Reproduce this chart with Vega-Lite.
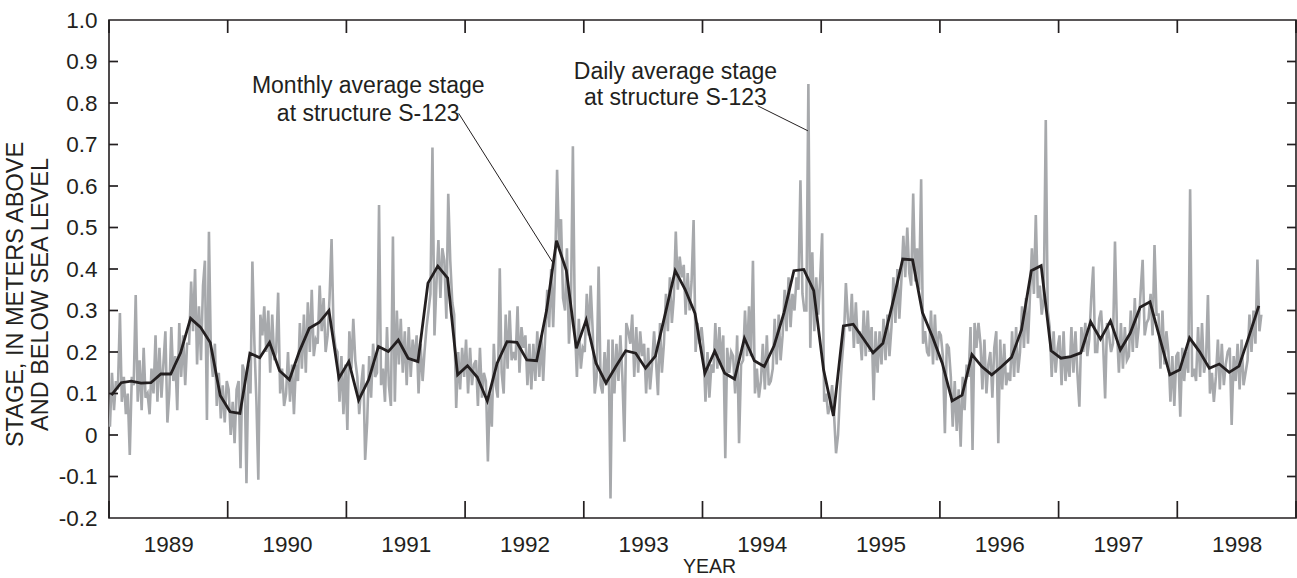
{
"$schema":"https://vega.github.io/schema/vega-lite/v6.json",
"width":1187,"height":498,"autosize":"none",
"padding":{"left":109,"top":20,"right":1,"bottom":60},
"background":"white",
"config":{"view":{"stroke":"#231f20","strokeWidth":1.6},"font":"Liberation Sans",
"axis":{"grid":false,"domain":false,"labelFont":"Liberation Sans","titleFont":"Liberation Sans","labelColor":"#231f20","titleColor":"#231f20","tickColor":"#231f20","titleFontWeight":"normal","labelFlush":false,"labelOverlap":false}},
"datasets":{
"monthly":[
{"t":1989.020,"v":0.096},{"t":1989.103,"v":0.126},{"t":1989.187,"v":0.130},{"t":1989.270,"v":0.125},{"t":1989.353,"v":0.126},{"t":1989.437,"v":0.147},{"t":1989.520,"v":0.147},{"t":1989.603,"v":0.198},{"t":1989.687,"v":0.281},{"t":1989.770,"v":0.260},{"t":1989.853,"v":0.223},{"t":1989.937,"v":0.095},
{"t":1990.020,"v":0.056},{"t":1990.103,"v":0.052},{"t":1990.187,"v":0.197},{"t":1990.270,"v":0.186},{"t":1990.353,"v":0.223},{"t":1990.437,"v":0.155},{"t":1990.520,"v":0.133},{"t":1990.603,"v":0.201},{"t":1990.687,"v":0.257},{"t":1990.770,"v":0.271},{"t":1990.853,"v":0.300},{"t":1990.937,"v":0.137},
{"t":1991.020,"v":0.177},{"t":1991.103,"v":0.084},{"t":1991.187,"v":0.133},{"t":1991.270,"v":0.213},{"t":1991.353,"v":0.201},{"t":1991.437,"v":0.229},{"t":1991.520,"v":0.185},{"t":1991.603,"v":0.177},{"t":1991.687,"v":0.366},{"t":1991.770,"v":0.407},{"t":1991.853,"v":0.378},{"t":1991.937,"v":0.145},
{"t":1992.020,"v":0.167},{"t":1992.103,"v":0.139},{"t":1992.187,"v":0.082},{"t":1992.270,"v":0.173},{"t":1992.353,"v":0.225},{"t":1992.437,"v":0.223},{"t":1992.520,"v":0.181},{"t":1992.603,"v":0.179},{"t":1992.687,"v":0.301},{"t":1992.770,"v":0.468},{"t":1992.853,"v":0.396},{"t":1992.937,"v":0.209},
{"t":1993.020,"v":0.277},{"t":1993.103,"v":0.173},{"t":1993.187,"v":0.125},{"t":1993.270,"v":0.165},{"t":1993.353,"v":0.203},{"t":1993.437,"v":0.197},{"t":1993.520,"v":0.161},{"t":1993.603,"v":0.190},{"t":1993.687,"v":0.293},{"t":1993.770,"v":0.396},{"t":1993.853,"v":0.351},{"t":1993.937,"v":0.293},
{"t":1994.020,"v":0.149},{"t":1994.103,"v":0.202},{"t":1994.187,"v":0.149},{"t":1994.270,"v":0.135},{"t":1994.353,"v":0.233},{"t":1994.437,"v":0.179},{"t":1994.520,"v":0.165},{"t":1994.603,"v":0.215},{"t":1994.687,"v":0.295},{"t":1994.770,"v":0.396},{"t":1994.853,"v":0.399},{"t":1994.937,"v":0.348},
{"t":1995.020,"v":0.157},{"t":1995.103,"v":0.046},{"t":1995.187,"v":0.263},{"t":1995.270,"v":0.267},{"t":1995.353,"v":0.233},{"t":1995.437,"v":0.198},{"t":1995.520,"v":0.221},{"t":1995.603,"v":0.319},{"t":1995.687,"v":0.424},{"t":1995.770,"v":0.422},{"t":1995.853,"v":0.295},{"t":1995.937,"v":0.237},
{"t":1996.020,"v":0.173},{"t":1996.103,"v":0.082},{"t":1996.187,"v":0.096},{"t":1996.270,"v":0.194},{"t":1996.353,"v":0.165},{"t":1996.437,"v":0.145},{"t":1996.520,"v":0.165},{"t":1996.603,"v":0.187},{"t":1996.687,"v":0.253},{"t":1996.770,"v":0.396},{"t":1996.853,"v":0.408},{"t":1996.937,"v":0.203},
{"t":1997.020,"v":0.185},{"t":1997.103,"v":0.189},{"t":1997.187,"v":0.198},{"t":1997.270,"v":0.273},{"t":1997.353,"v":0.231},{"t":1997.437,"v":0.275},{"t":1997.520,"v":0.205},{"t":1997.603,"v":0.245},{"t":1997.687,"v":0.308},{"t":1997.770,"v":0.321},{"t":1997.853,"v":0.233},{"t":1997.937,"v":0.145},
{"t":1998.020,"v":0.157},{"t":1998.103,"v":0.234},{"t":1998.187,"v":0.201},{"t":1998.270,"v":0.161},{"t":1998.353,"v":0.171},{"t":1998.437,"v":0.151},{"t":1998.520,"v":0.166},{"t":1998.603,"v":0.237},{"t":1998.687,"v":0.311}
],
"daily":[
{"t":1989.008,"v":0.02},{"t":1989.025,"v":0.15},{"t":1989.042,"v":0.06},{"t":1989.058,"v":0.13},{"t":1989.075,"v":0.11},
{"t":1989.092,"v":0.294},{"t":1989.108,"v":0.08},{"t":1989.125,"v":0.14},{"t":1989.142,"v":0.05},{"t":1989.158,"v":0.10},
{"t":1989.175,"v":-0.048},{"t":1989.192,"v":0.14},{"t":1989.208,"v":0.12},{"t":1989.225,"v":0.337},{"t":1989.242,"v":0.08},
{"t":1989.258,"v":0.18},{"t":1989.275,"v":0.06},{"t":1989.292,"v":0.21},{"t":1989.308,"v":0.09},{"t":1989.325,"v":0.10},
{"t":1989.342,"v":0.05},{"t":1989.358,"v":0.16},{"t":1989.375,"v":0.10},{"t":1989.392,"v":0.24},{"t":1989.408,"v":0.08},
{"t":1989.425,"v":0.21},{"t":1989.442,"v":0.09},{"t":1989.458,"v":0.17},{"t":1989.475,"v":0.25},{"t":1989.492,"v":0.03},
{"t":1989.508,"v":0.10},{"t":1989.525,"v":0.26},{"t":1989.542,"v":0.13},{"t":1989.558,"v":0.19},{"t":1989.575,"v":0.06},
{"t":1989.592,"v":0.27},{"t":1989.608,"v":0.14},{"t":1989.625,"v":0.24},{"t":1989.642,"v":0.12},{"t":1989.658,"v":0.22},
{"t":1989.675,"v":0.22},{"t":1989.692,"v":0.37},{"t":1989.708,"v":0.25},{"t":1989.725,"v":0.40},{"t":1989.742,"v":0.17},
{"t":1989.758,"v":0.31},{"t":1989.775,"v":0.18},{"t":1989.792,"v":0.36},{"t":1989.808,"v":0.42},{"t":1989.825,"v":0.036},
{"t":1989.842,"v":0.49},{"t":1989.858,"v":0.20},{"t":1989.875,"v":0.14},{"t":1989.892,"v":0.22},{"t":1989.908,"v":0.07},
{"t":1989.925,"v":0.15},{"t":1989.942,"v":0.04},{"t":1989.958,"v":0.12},{"t":1989.975,"v":0.03},{"t":1989.992,"v":0.13},
{"t":1990.008,"v":0.11},{"t":1990.025,"v":0.00},{"t":1990.042,"v":0.08},{"t":1990.058,"v":-0.02},{"t":1990.075,"v":0.11},
{"t":1990.092,"v":0.13},{"t":1990.108,"v":-0.08},{"t":1990.125,"v":0.17},{"t":1990.142,"v":0.15},{"t":1990.158,"v":-0.116},
{"t":1990.175,"v":0.17},{"t":1990.192,"v":0.10},{"t":1990.208,"v":0.418},{"t":1990.225,"v":0.22},{"t":1990.242,"v":0.08},
{"t":1990.258,"v":-0.108},{"t":1990.275,"v":0.29},{"t":1990.292,"v":0.24},{"t":1990.308,"v":0.31},{"t":1990.325,"v":0.20},
{"t":1990.342,"v":0.30},{"t":1990.358,"v":0.15},{"t":1990.375,"v":0.29},{"t":1990.392,"v":0.18},{"t":1990.408,"v":0.20},
{"t":1990.425,"v":0.343},{"t":1990.442,"v":0.10},{"t":1990.458,"v":0.16},{"t":1990.475,"v":0.07},{"t":1990.492,"v":0.10},
{"t":1990.508,"v":0.20},{"t":1990.525,"v":0.08},{"t":1990.542,"v":0.17},{"t":1990.558,"v":0.05},{"t":1990.575,"v":0.17},
{"t":1990.592,"v":0.13},{"t":1990.608,"v":0.27},{"t":1990.625,"v":0.16},{"t":1990.642,"v":0.29},{"t":1990.658,"v":0.15},
{"t":1990.675,"v":0.32},{"t":1990.692,"v":0.20},{"t":1990.708,"v":0.35},{"t":1990.725,"v":0.19},{"t":1990.742,"v":0.23},
{"t":1990.758,"v":0.22},{"t":1990.775,"v":0.36},{"t":1990.792,"v":0.25},{"t":1990.808,"v":0.33},{"t":1990.825,"v":0.20},
{"t":1990.842,"v":0.24},{"t":1990.858,"v":0.33},{"t":1990.875,"v":0.472},{"t":1990.892,"v":0.25},{"t":1990.908,"v":0.21},
{"t":1990.925,"v":0.20},{"t":1990.942,"v":0.08},{"t":1990.958,"v":0.19},{"t":1990.975,"v":0.05},{"t":1990.992,"v":0.17},
{"t":1991.008,"v":0.012},{"t":1991.025,"v":0.25},{"t":1991.042,"v":0.16},{"t":1991.058,"v":0.28},{"t":1991.075,"v":0.18},
{"t":1991.092,"v":0.14},{"t":1991.108,"v":0.05},{"t":1991.125,"v":0.12},{"t":1991.142,"v":0.17},{"t":1991.158,"v":-0.06},
{"t":1991.175,"v":0.03},{"t":1991.192,"v":0.19},{"t":1991.208,"v":0.09},{"t":1991.225,"v":0.22},{"t":1991.242,"v":0.14},
{"t":1991.258,"v":0.15},{"t":1991.275,"v":0.554},{"t":1991.292,"v":0.12},{"t":1991.308,"v":0.16},{"t":1991.325,"v":0.08},
{"t":1991.342,"v":0.26},{"t":1991.358,"v":0.12},{"t":1991.375,"v":0.07},{"t":1991.392,"v":0.478},{"t":1991.408,"v":0.08},
{"t":1991.425,"v":0.30},{"t":1991.442,"v":0.17},{"t":1991.458,"v":0.28},{"t":1991.475,"v":0.15},{"t":1991.492,"v":0.25},
{"t":1991.508,"v":0.12},{"t":1991.525,"v":0.26},{"t":1991.542,"v":0.14},{"t":1991.558,"v":0.23},{"t":1991.575,"v":0.18},
{"t":1991.592,"v":0.24},{"t":1991.608,"v":0.10},{"t":1991.625,"v":0.22},{"t":1991.642,"v":0.13},{"t":1991.658,"v":0.20},
{"t":1991.675,"v":0.26},{"t":1991.692,"v":0.30},{"t":1991.708,"v":0.34},{"t":1991.725,"v":0.693},{"t":1991.742,"v":0.24},
{"t":1991.758,"v":0.36},{"t":1991.775,"v":0.47},{"t":1991.792,"v":0.33},{"t":1991.808,"v":0.45},{"t":1991.825,"v":0.42},
{"t":1991.842,"v":0.28},{"t":1991.858,"v":0.581},{"t":1991.875,"v":0.42},{"t":1991.892,"v":0.32},{"t":1991.908,"v":0.29},
{"t":1991.925,"v":0.065},{"t":1991.942,"v":0.20},{"t":1991.958,"v":0.11},{"t":1991.975,"v":0.21},{"t":1991.992,"v":0.14},
{"t":1992.008,"v":0.23},{"t":1992.025,"v":0.10},{"t":1992.042,"v":0.21},{"t":1992.058,"v":0.12},{"t":1992.075,"v":0.17},
{"t":1992.092,"v":0.18},{"t":1992.108,"v":0.07},{"t":1992.125,"v":0.21},{"t":1992.142,"v":0.09},{"t":1992.158,"v":0.15},
{"t":1992.175,"v":0.13},{"t":1992.192,"v":-0.064},{"t":1992.208,"v":0.10},{"t":1992.225,"v":0.02},{"t":1992.242,"v":0.22},
{"t":1992.258,"v":0.12},{"t":1992.275,"v":0.09},{"t":1992.292,"v":0.402},{"t":1992.308,"v":0.15},{"t":1992.325,"v":0.10},
{"t":1992.342,"v":0.29},{"t":1992.358,"v":0.16},{"t":1992.375,"v":0.30},{"t":1992.392,"v":0.18},{"t":1992.408,"v":0.20},
{"t":1992.425,"v":0.18},{"t":1992.442,"v":0.31},{"t":1992.458,"v":0.15},{"t":1992.475,"v":0.26},{"t":1992.492,"v":0.21},
{"t":1992.508,"v":0.24},{"t":1992.525,"v":0.12},{"t":1992.542,"v":0.22},{"t":1992.558,"v":0.11},{"t":1992.575,"v":0.22},
{"t":1992.592,"v":0.13},{"t":1992.608,"v":0.25},{"t":1992.625,"v":0.14},{"t":1992.642,"v":0.24},{"t":1992.658,"v":0.13},
{"t":1992.675,"v":0.24},{"t":1992.692,"v":0.35},{"t":1992.708,"v":0.26},{"t":1992.725,"v":0.40},{"t":1992.742,"v":0.26},
{"t":1992.758,"v":0.40},{"t":1992.775,"v":0.639},{"t":1992.792,"v":0.45},{"t":1992.808,"v":0.52},{"t":1992.825,"v":0.33},
{"t":1992.842,"v":0.30},{"t":1992.858,"v":0.45},{"t":1992.875,"v":0.22},{"t":1992.892,"v":0.32},{"t":1992.908,"v":0.696},
{"t":1992.925,"v":0.26},{"t":1992.942,"v":0.14},{"t":1992.958,"v":0.28},{"t":1992.975,"v":0.16},{"t":1992.992,"v":0.21},
{"t":1993.008,"v":0.20},{"t":1993.025,"v":0.34},{"t":1993.042,"v":0.24},{"t":1993.058,"v":0.36},{"t":1993.075,"v":0.25},
{"t":1993.092,"v":0.10},{"t":1993.108,"v":0.14},{"t":1993.125,"v":0.406},{"t":1993.142,"v":0.12},{"t":1993.158,"v":0.10},
{"t":1993.175,"v":0.20},{"t":1993.192,"v":0.12},{"t":1993.208,"v":0.23},{"t":1993.225,"v":-0.153},{"t":1993.242,"v":0.23},
{"t":1993.258,"v":0.10},{"t":1993.275,"v":0.22},{"t":1993.292,"v":0.13},{"t":1993.308,"v":0.24},{"t":1993.325,"v":0.14},
{"t":1993.342,"v":-0.016},{"t":1993.358,"v":0.27},{"t":1993.375,"v":0.25},{"t":1993.392,"v":0.22},{"t":1993.408,"v":0.29},
{"t":1993.425,"v":0.14},{"t":1993.442,"v":0.26},{"t":1993.458,"v":0.15},{"t":1993.475,"v":0.25},{"t":1993.492,"v":0.19},
{"t":1993.508,"v":0.22},{"t":1993.525,"v":0.10},{"t":1993.542,"v":0.21},{"t":1993.558,"v":0.11},{"t":1993.575,"v":0.17},
{"t":1993.592,"v":0.25},{"t":1993.608,"v":0.18},{"t":1993.625,"v":0.096},{"t":1993.642,"v":0.27},{"t":1993.658,"v":0.15},
{"t":1993.675,"v":0.22},{"t":1993.692,"v":0.34},{"t":1993.708,"v":0.25},{"t":1993.725,"v":0.38},{"t":1993.742,"v":0.27},
{"t":1993.758,"v":0.33},{"t":1993.775,"v":0.49},{"t":1993.792,"v":0.35},{"t":1993.808,"v":0.43},{"t":1993.825,"v":0.38},
{"t":1993.842,"v":0.41},{"t":1993.858,"v":0.29},{"t":1993.875,"v":0.39},{"t":1993.892,"v":0.30},{"t":1993.908,"v":0.37},
{"t":1993.925,"v":0.518},{"t":1993.942,"v":0.20},{"t":1993.958,"v":0.27},{"t":1993.975,"v":0.22},{"t":1993.992,"v":0.26},
{"t":1994.008,"v":0.21},{"t":1994.025,"v":0.08},{"t":1994.042,"v":0.20},{"t":1994.058,"v":0.09},{"t":1994.075,"v":0.17},
{"t":1994.092,"v":0.15},{"t":1994.108,"v":0.27},{"t":1994.125,"v":0.16},{"t":1994.142,"v":0.26},{"t":1994.158,"v":0.17},
{"t":1994.175,"v":0.24},{"t":1994.192,"v":-0.056},{"t":1994.208,"v":0.21},{"t":1994.225,"v":0.15},{"t":1994.242,"v":0.20},
{"t":1994.258,"v":0.19},{"t":1994.275,"v":0.10},{"t":1994.292,"v":0.24},{"t":1994.308,"v":-0.02},{"t":1994.325,"v":0.17},
{"t":1994.342,"v":0.18},{"t":1994.358,"v":0.30},{"t":1994.375,"v":0.19},{"t":1994.392,"v":0.31},{"t":1994.408,"v":0.19},
{"t":1994.425,"v":0.42},{"t":1994.442,"v":0.10},{"t":1994.458,"v":0.16},{"t":1994.475,"v":0.09},{"t":1994.492,"v":0.13},
{"t":1994.508,"v":0.22},{"t":1994.525,"v":0.11},{"t":1994.542,"v":0.24},{"t":1994.558,"v":0.12},{"t":1994.575,"v":0.13},
{"t":1994.592,"v":0.16},{"t":1994.608,"v":0.28},{"t":1994.625,"v":0.17},{"t":1994.642,"v":0.29},{"t":1994.658,"v":0.18},
{"t":1994.675,"v":0.24},{"t":1994.692,"v":0.35},{"t":1994.708,"v":0.25},{"t":1994.725,"v":0.38},{"t":1994.742,"v":0.26},
{"t":1994.758,"v":0.34},{"t":1994.775,"v":0.30},{"t":1994.792,"v":0.38},{"t":1994.808,"v":0.35},{"t":1994.825,"v":0.614},
{"t":1994.842,"v":0.34},{"t":1994.858,"v":0.30},{"t":1994.875,"v":0.30},{"t":1994.892,"v":0.846},{"t":1994.908,"v":0.21},
{"t":1994.925,"v":0.44},{"t":1994.942,"v":0.25},{"t":1994.958,"v":0.38},{"t":1994.975,"v":0.29},{"t":1994.992,"v":0.38},
{"t":1995.008,"v":0.486},{"t":1995.025,"v":0.08},{"t":1995.042,"v":0.10},{"t":1995.058,"v":0.05},{"t":1995.075,"v":0.07},
{"t":1995.092,"v":0.12},{"t":1995.108,"v":0.05},{"t":1995.125,"v":-0.044},{"t":1995.142,"v":0.00},{"t":1995.158,"v":0.10},
{"t":1995.175,"v":0.18},{"t":1995.192,"v":0.24},{"t":1995.208,"v":0.366},{"t":1995.225,"v":0.28},{"t":1995.242,"v":0.25},
{"t":1995.258,"v":0.34},{"t":1995.275,"v":0.21},{"t":1995.292,"v":0.32},{"t":1995.308,"v":0.22},{"t":1995.325,"v":0.25},
{"t":1995.342,"v":0.18},{"t":1995.358,"v":0.30},{"t":1995.375,"v":0.19},{"t":1995.392,"v":0.30},{"t":1995.408,"v":0.20},
{"t":1995.425,"v":0.26},{"t":1995.442,"v":0.084},{"t":1995.458,"v":0.25},{"t":1995.475,"v":0.15},{"t":1995.492,"v":0.25},
{"t":1995.508,"v":0.17},{"t":1995.525,"v":0.28},{"t":1995.542,"v":0.18},{"t":1995.558,"v":0.29},{"t":1995.575,"v":0.19},
{"t":1995.592,"v":0.26},{"t":1995.608,"v":0.38},{"t":1995.625,"v":0.27},{"t":1995.642,"v":0.40},{"t":1995.658,"v":0.28},
{"t":1995.675,"v":0.37},{"t":1995.692,"v":0.48},{"t":1995.708,"v":0.38},{"t":1995.725,"v":0.50},{"t":1995.742,"v":0.39},
{"t":1995.758,"v":0.36},{"t":1995.775,"v":0.582},{"t":1995.792,"v":0.37},{"t":1995.808,"v":0.45},{"t":1995.825,"v":0.35},
{"t":1995.842,"v":0.616},{"t":1995.858,"v":0.22},{"t":1995.875,"v":0.25},{"t":1995.892,"v":0.20},{"t":1995.908,"v":0.19},
{"t":1995.925,"v":0.30},{"t":1995.942,"v":0.17},{"t":1995.958,"v":0.29},{"t":1995.975,"v":0.18},{"t":1995.992,"v":0.25},
{"t":1996.008,"v":0.24},{"t":1996.025,"v":0.19},{"t":1996.042,"v":0.004},{"t":1996.058,"v":0.22},{"t":1996.075,"v":0.21},
{"t":1996.092,"v":0.14},{"t":1996.108,"v":0.02},{"t":1996.125,"v":0.13},{"t":1996.142,"v":0.01},{"t":1996.158,"v":0.11},
{"t":1996.175,"v":-0.028},{"t":1996.192,"v":0.14},{"t":1996.208,"v":0.06},{"t":1996.225,"v":0.17},{"t":1996.242,"v":0.14},
{"t":1996.258,"v":0.26},{"t":1996.275,"v":-0.036},{"t":1996.292,"v":0.27},{"t":1996.308,"v":0.21},{"t":1996.325,"v":0.27},
{"t":1996.342,"v":0.22},{"t":1996.358,"v":0.11},{"t":1996.375,"v":0.23},{"t":1996.392,"v":0.10},{"t":1996.408,"v":0.17},
{"t":1996.425,"v":0.20},{"t":1996.442,"v":0.09},{"t":1996.458,"v":0.21},{"t":1996.475,"v":0.25},{"t":1996.492,"v":-0.02},
{"t":1996.508,"v":0.23},{"t":1996.525,"v":0.11},{"t":1996.542,"v":0.22},{"t":1996.558,"v":0.12},{"t":1996.575,"v":0.15},
{"t":1996.592,"v":0.13},{"t":1996.608,"v":0.25},{"t":1996.625,"v":0.14},{"t":1996.642,"v":0.26},{"t":1996.658,"v":0.15},
{"t":1996.675,"v":0.20},{"t":1996.692,"v":0.31},{"t":1996.708,"v":0.21},{"t":1996.725,"v":0.33},{"t":1996.742,"v":0.22},
{"t":1996.758,"v":0.33},{"t":1996.775,"v":0.45},{"t":1996.792,"v":0.34},{"t":1996.808,"v":0.53},{"t":1996.825,"v":0.33},
{"t":1996.842,"v":0.36},{"t":1996.858,"v":0.29},{"t":1996.875,"v":0.33},{"t":1996.892,"v":0.759},{"t":1996.908,"v":0.30},
{"t":1996.925,"v":0.26},{"t":1996.942,"v":0.14},{"t":1996.958,"v":0.25},{"t":1996.975,"v":0.15},{"t":1996.992,"v":0.21},
{"t":1997.008,"v":0.24},{"t":1997.025,"v":0.12},{"t":1997.042,"v":0.25},{"t":1997.058,"v":0.13},{"t":1997.075,"v":0.19},
{"t":1997.092,"v":0.14},{"t":1997.108,"v":0.26},{"t":1997.125,"v":0.15},{"t":1997.142,"v":0.25},{"t":1997.158,"v":0.15},
{"t":1997.175,"v":0.068},{"t":1997.192,"v":0.26},{"t":1997.208,"v":0.20},{"t":1997.225,"v":0.27},{"t":1997.242,"v":0.19},
{"t":1997.258,"v":0.23},{"t":1997.275,"v":0.33},{"t":1997.292,"v":0.406},{"t":1997.308,"v":0.20},{"t":1997.325,"v":0.20},
{"t":1997.342,"v":0.28},{"t":1997.358,"v":0.30},{"t":1997.375,"v":0.22},{"t":1997.392,"v":0.088},{"t":1997.408,"v":0.27},
{"t":1997.425,"v":0.24},{"t":1997.442,"v":0.20},{"t":1997.458,"v":0.22},{"t":1997.475,"v":0.466},{"t":1997.492,"v":0.25},
{"t":1997.508,"v":0.15},{"t":1997.525,"v":0.27},{"t":1997.542,"v":0.16},{"t":1997.558,"v":0.26},{"t":1997.575,"v":0.18},
{"t":1997.592,"v":0.19},{"t":1997.608,"v":0.30},{"t":1997.625,"v":0.20},{"t":1997.642,"v":0.33},{"t":1997.658,"v":0.21},
{"t":1997.675,"v":0.26},{"t":1997.692,"v":0.35},{"t":1997.708,"v":0.422},{"t":1997.725,"v":0.24},{"t":1997.742,"v":0.27},
{"t":1997.758,"v":0.28},{"t":1997.775,"v":0.34},{"t":1997.792,"v":0.24},{"t":1997.808,"v":0.458},{"t":1997.825,"v":0.29},
{"t":1997.842,"v":0.29},{"t":1997.858,"v":0.16},{"t":1997.875,"v":0.30},{"t":1997.892,"v":0.17},{"t":1997.908,"v":0.25},
{"t":1997.925,"v":0.20},{"t":1997.942,"v":0.08},{"t":1997.958,"v":0.19},{"t":1997.975,"v":0.07},{"t":1997.992,"v":0.19},
{"t":1998.008,"v":0.20},{"t":1998.025,"v":0.044},{"t":1998.042,"v":0.21},{"t":1998.058,"v":0.13},{"t":1998.075,"v":0.20},
{"t":1998.092,"v":0.15},{"t":1998.108,"v":0.592},{"t":1998.125,"v":0.14},{"t":1998.142,"v":0.16},{"t":1998.158,"v":0.13},
{"t":1998.175,"v":0.26},{"t":1998.192,"v":0.14},{"t":1998.208,"v":0.27},{"t":1998.225,"v":0.15},{"t":1998.242,"v":0.18},
{"t":1998.258,"v":0.337},{"t":1998.275,"v":0.10},{"t":1998.292,"v":0.15},{"t":1998.308,"v":0.08},{"t":1998.325,"v":0.14},
{"t":1998.342,"v":0.23},{"t":1998.358,"v":0.11},{"t":1998.375,"v":0.22},{"t":1998.392,"v":0.12},{"t":1998.408,"v":0.17},
{"t":1998.425,"v":0.20},{"t":1998.442,"v":0.21},{"t":1998.458,"v":0.024},{"t":1998.475,"v":0.19},{"t":1998.492,"v":0.13},
{"t":1998.508,"v":0.22},{"t":1998.525,"v":0.11},{"t":1998.542,"v":0.23},{"t":1998.558,"v":0.12},{"t":1998.575,"v":0.15},
{"t":1998.592,"v":0.18},{"t":1998.608,"v":0.29},{"t":1998.625,"v":0.20},{"t":1998.642,"v":0.30},{"t":1998.658,"v":0.22},
{"t":1998.675,"v":0.423},{"t":1998.692,"v":0.25},{"t":1998.708,"v":0.29}
],
"notes":[
{"t":1991.184,"v":0.824,"s":"Monthly average stage"},
{"t":1991.184,"v":0.757,"s":"at structure S-123"},
{"t":1993.772,"v":0.857,"s":"Daily average stage"},
{"t":1993.772,"v":0.795,"s":"at structure S-123"}
],
"leaders":[
{"t":1991.946,"v":0.775,"t2":1992.738,"v2":0.416},
{"t":1994.466,"v":0.793,"t2":1994.888,"v2":0.733}
],
"xticks":[{"t":1989},{"t":1990},{"t":1991},{"t":1992},{"t":1993},{"t":1994},{"t":1995},{"t":1996},{"t":1997},{"t":1998},{"t":1999}],
"yticks":[{"v":-0.1},{"v":0},{"v":0.1},{"v":0.2},{"v":0.3},{"v":0.4},{"v":0.5},{"v":0.6},{"v":0.7},{"v":0.8},{"v":0.9}]
},
"layer":[
{"data":{"name":"daily"},
 "mark":{"type":"line","color":"#a7a9ac","strokeWidth":2.6},
 "encoding":{
  "x":{"field":"t","type":"quantitative","scale":{"domain":[1989,1999],"nice":false,"zero":false},
   "axis":{"orient":"bottom","values":[1989.5,1990.5,1991.5,1992.5,1993.5,1994.5,1995.5,1996.5,1997.5,1998.5],"labelExpr":"'' + floor(datum.value)","ticks":false,"labelFontSize":22.5,"labelPadding":15,"title":"YEAR","titleFontSize":19.5,"titleX":600,"titleY":54,"titleBaseline":"alphabetic","titleAlign":"center","titleAnchor":null}},
  "y":{"field":"v","type":"quantitative","scale":{"domain":[-0.2,1.0],"nice":false,"zero":false},
   "axis":{"orient":"left","values":[-0.2,-0.1,0,0.1,0.2,0.3,0.4,0.5,0.6,0.7,0.8,0.9,1.0],"labelExpr":"datum.value == 0 ? '0' : (datum.value < 0 ? '-' + format(-datum.value, '.1f') : format(datum.value, '.1f'))","ticks":false,"labelFontSize":22.5,"labelPadding":12,"title":["STAGE, IN METERS ABOVE","AND BELOW SEA LEVEL"],"titleFontSize":23.5,"titleAngle":-90,"titleX":-87,"titleY":274,"titleBaseline":"alphabetic","titleAlign":"center","titleAnchor":null,"titleLineHeight":25}}
 }},
{"data":{"name":"monthly"},
 "mark":{"type":"line","color":"#231f20","strokeWidth":2.8},
 "encoding":{
  "x":{"field":"t","type":"quantitative"},
  "y":{"field":"v","type":"quantitative"}
 }},
{"data":{"name":"notes"},
 "mark":{"type":"text","align":"center","baseline":"alphabetic","fontSize":23,"font":"Liberation Sans","color":"#231f20"},
 "encoding":{
  "x":{"field":"t","type":"quantitative"},
  "y":{"field":"v","type":"quantitative"},
  "text":{"field":"s","type":"nominal"}
 }},
{"data":{"name":"leaders"},
 "mark":{"type":"rule","color":"#231f20","strokeWidth":1},
 "encoding":{
  "x":{"field":"t","type":"quantitative"},
  "x2":{"field":"t2"},
  "y":{"field":"v","type":"quantitative"},
  "y2":{"field":"v2"}
 }},
{"data":{"name":"xticks"},
 "mark":{"type":"rule","color":"#231f20","strokeWidth":1.7},
 "encoding":{
  "x":{"field":"t","type":"quantitative"},
  "y":{"datum":-0.2,"type":"quantitative"},
  "y2":{"datum":-0.159}
 }},
{"data":{"name":"xticks"},
 "mark":{"type":"rule","color":"#231f20","strokeWidth":1.7},
 "encoding":{
  "x":{"field":"t","type":"quantitative"},
  "y":{"datum":1.0,"type":"quantitative"},
  "y2":{"datum":0.9687}
 }},
{"data":{"name":"yticks"},
 "mark":{"type":"rule","color":"#231f20","strokeWidth":1.7},
 "encoding":{
  "x":{"datum":1989,"type":"quantitative"},
  "x2":{"datum":1989.076},
  "y":{"field":"v","type":"quantitative"}
 }},
{"data":{"name":"yticks"},
 "mark":{"type":"rule","color":"#231f20","strokeWidth":1.7},
 "encoding":{
  "x":{"datum":1999,"type":"quantitative"},
  "x2":{"datum":1998.924},
  "y":{"field":"v","type":"quantitative"}
 }}
]
}
